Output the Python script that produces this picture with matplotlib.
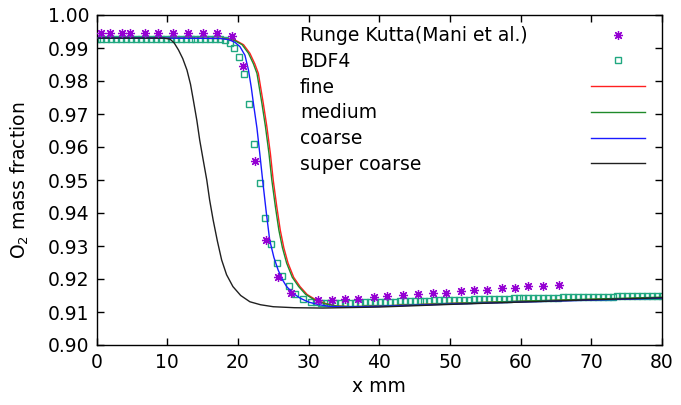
import matplotlib
matplotlib.use("Agg")
import matplotlib.pyplot as plt

plt.rcParams['font.family'] = ['DejaVu Sans']
plt.rcParams['font.size'] = 13.5

# Runge Kutta (Mani et al.) reference points
rk_x = [0.7, 1.9, 3.6, 4.8, 6.9, 8.7, 10.8, 13.0, 15.0, 17.0, 19.1, 20.7, 22.4,
        24.0, 25.7, 27.5, 31.4, 33.3, 35.1, 37.0, 39.2, 41.1, 43.4, 45.5, 47.6,
        49.5, 51.5, 53.4, 55.3, 57.3, 59.2, 61.1, 63.2, 65.4]
rk_y = [0.9945, 0.9945, 0.9945, 0.9945, 0.9945, 0.9945, 0.9945, 0.9945, 0.9945,
        0.9945, 0.9935, 0.9844, 0.9559, 0.9317, 0.9206, 0.9159, 0.9136, 0.9136,
        0.9138, 0.9138, 0.9144, 0.9147, 0.9151, 0.9156, 0.9159, 0.9159, 0.9164,
        0.9166, 0.9166, 0.9173, 0.9173, 0.9178, 0.9178, 0.9182]

# BDF4 points
bdf_x = [0.0, 0.7, 1.4, 2.1, 2.8, 3.5, 4.2, 4.9, 5.6, 6.3, 7.0, 7.7, 8.4, 9.1,
         9.8, 10.5, 11.2, 11.9, 12.6, 13.3, 14.0, 14.7, 15.4, 16.1, 16.8, 17.5,
         18.2, 18.9, 19.5, 20.2, 20.9, 21.6, 22.3, 23.1, 23.9, 24.7, 25.5, 26.3,
         27.2, 28.1, 29.2, 30.4,
         31.0, 31.7, 32.4, 33.1, 33.8, 34.5, 35.2, 35.9, 36.6, 37.3, 38.0, 38.7,
         39.4, 40.1, 40.8, 41.5, 42.2, 42.9, 43.6, 44.3, 45.0, 45.7, 46.4, 47.1,
         47.8, 48.5, 49.2, 49.9, 50.6, 51.3, 52.0, 52.7, 53.4, 54.1, 54.8, 55.5,
         56.2, 56.9, 57.6, 58.3, 59.0, 59.7, 60.4, 61.1, 61.8, 62.5, 63.2, 63.9,
         64.6, 65.3, 66.0, 66.7, 67.4, 68.1, 68.8, 69.5, 70.2, 70.9, 71.6, 72.3,
         73.0, 73.7, 74.4, 75.1, 75.8, 76.5, 77.2, 77.9, 78.6, 79.3, 80.0]
bdf_y = [0.9927] * 26 + [
    0.9924, 0.9916, 0.9900, 0.9872, 0.9822, 0.9730, 0.9610, 0.9490, 0.9385,
    0.9305, 0.9250, 0.9210, 0.9180, 0.9156, 0.9140, 0.9131,
    0.9129, 0.9128, 0.9127, 0.9127, 0.9127, 0.9127,
    0.9127, 0.9128, 0.9128, 0.9128, 0.9129, 0.9129, 0.9130, 0.9130,
    0.9130, 0.9131, 0.9131, 0.9132, 0.9132, 0.9133, 0.9133, 0.9133, 0.9134,
    0.9134, 0.9135, 0.9135, 0.9136, 0.9136,
    0.9136, 0.9137, 0.9137, 0.9137, 0.9138, 0.9138, 0.9138, 0.9139, 0.9139,
    0.9140, 0.9140, 0.9140, 0.9141, 0.9141,
    0.9141, 0.9141, 0.9142, 0.9142, 0.9142, 0.9143, 0.9143, 0.9143, 0.9144,
    0.9144, 0.9144, 0.9144, 0.9145, 0.9145,
    0.9145, 0.9145, 0.9146, 0.9146, 0.9146, 0.9147, 0.9147, 0.9147, 0.9147,
    0.9148, 0.9148, 0.9148, 0.9149, 0.9149, 0.9149]

# fine mesh
fine_x = [0, 10, 18, 19.6, 20.8, 21.7, 22.4, 22.9, 23.6, 24.1, 24.6, 25.0, 25.5,
          26.0, 26.5, 27.1, 27.9, 28.8, 29.8, 31.1, 32.5, 34, 36, 40, 50, 60, 70, 80]
fine_y = [0.9930, 0.9930, 0.9929, 0.9924, 0.9910, 0.9884, 0.9852, 0.9823, 0.9732,
          0.9662, 0.9580, 0.9500, 0.9420, 0.9348, 0.9295, 0.9248, 0.9205, 0.9177,
          0.9153, 0.9136, 0.9125, 0.9118, 0.9116, 0.9118, 0.9126, 0.9132, 0.9138,
          0.9143]

# medium mesh
med_x = [0, 10, 17.8, 19.4, 20.6, 21.5, 22.2, 22.7, 23.4, 23.9, 24.4, 24.8, 25.3,
         25.8, 26.3, 26.9, 27.7, 28.6, 29.6, 30.9, 32.3, 34, 36, 40, 50, 60, 70, 80]
med_y = [0.9930, 0.9930, 0.9929, 0.9924, 0.9910, 0.9884, 0.9852, 0.9823, 0.9732,
         0.9662, 0.9580, 0.9500, 0.9420, 0.9348, 0.9295, 0.9248, 0.9205, 0.9177,
         0.9153, 0.9136, 0.9125, 0.9118, 0.9116, 0.9118, 0.9126, 0.9133, 0.9139,
         0.9145]

# coarse mesh
coarse_x = [0, 10, 17.5, 18.8, 19.6, 20.3, 21.0, 21.5, 21.9, 22.2, 22.7, 23.1, 23.5,
            24.0, 24.5, 25.1, 25.7, 26.3, 26.9, 27.8, 28.8, 30.0, 31.5, 33, 35, 40,
            50, 60, 70, 80]
coarse_y = [0.9930, 0.9930, 0.9929, 0.9925, 0.9917, 0.9904, 0.9878, 0.9833, 0.9780,
            0.9732, 0.9657, 0.9580, 0.9500, 0.9405, 0.9318, 0.9265, 0.9227, 0.9198,
            0.9177, 0.9157, 0.9142, 0.9130, 0.9122, 0.9117, 0.9115, 0.9117, 0.9124,
            0.9130, 0.9136, 0.9142]

# super coarse mesh
sc_x = [0, 9.5, 10.4, 11.0, 11.6, 12.2, 12.8, 13.3, 13.7, 14.2, 14.6, 15.1, 15.6,
        16.0, 16.5, 17.1, 17.7, 18.4, 19.3, 20.4, 21.7, 23.2, 25.0, 28, 32, 40, 50,
        60, 70, 80]
sc_y = [0.9930, 0.9930, 0.9927, 0.9915, 0.9894, 0.9868, 0.9833, 0.9790, 0.9742,
        0.9680, 0.9621, 0.9560, 0.9500, 0.9440, 0.9379, 0.9315, 0.9258, 0.9213,
        0.9177, 0.9150, 0.9131, 0.9122, 0.9116, 0.9113, 0.9112, 0.9115, 0.9123,
        0.9130, 0.9137, 0.9143]

xticks = [0, 10, 20, 30, 40, 50, 60, 70, 80]
yticks = [0.90, 0.91, 0.92, 0.93, 0.94, 0.95, 0.96, 0.97, 0.98, 0.99, 1.00]

fig = plt.figure(figsize=(6.81, 4.05), dpi=100)
ax = fig.add_axes([96.5/681, 1-345/405, (662-96.5)/681, 330/405])

ax.plot(fine_x, fine_y, color='#ff2020', lw=1.0, label='fine', zorder=3)
ax.plot(med_x, med_y, color='#1f8a2a', lw=1.0, label='medium', zorder=3)
ax.plot(coarse_x, coarse_y, color='#1a1aff', lw=1.0, label='coarse', zorder=4)
ax.plot(sc_x, sc_y, color='#202020', lw=1.0, label='super coarse', zorder=4)
ax.plot(bdf_x, bdf_y, ls='none', marker='s', ms=5, mfc='none', mec='#20a880',
        mew=1.0, label='BDF4', zorder=2)
ax.plot(rk_x, rk_y, ls='none', marker=(8, 2, 0), ms=6.5, color='#9400d3',
        mew=0.9, label='Runge Kutta(Mani et al.)', zorder=5)

ax.set_xlim(0, 80)
ax.set_ylim(0.90, 1.00)
ax.set_xticks(xticks)
ax.set_yticks(yticks)
ax.set_yticklabels(['%.2f' % v for v in yticks])
ax.tick_params(direction='in', length=5, width=1, top=True, right=True, pad=5)
ax.tick_params(axis='x', pad=6)
for s in ax.spines.values():
    s.set_linewidth(1.0)

ax.set_xlabel('x mm', labelpad=3)
ax.set_ylabel('O$_2$ mass fraction', labelpad=12)

h, l = ax.get_legend_handles_labels()
order = [5, 4, 0, 1, 2, 3]
leg = ax.legend([h[i] for i in order], [l[i] for i in order], loc='upper left',
                bbox_to_anchor=(0.36, 0.966), frameon=False, markerfirst=False,
                borderpad=0, borderaxespad=0, labelspacing=0.36, handlelength=2.9,
                handletextpad=0.5, numpoints=1)
# spread each legend row so text is left and sample sits at the right
for col in leg._legend_handle_box.get_children():
    for row in col.get_children():
        row.width = 345
        row.mode = 'expand'

fig.savefig('out.png', dpi=100)
